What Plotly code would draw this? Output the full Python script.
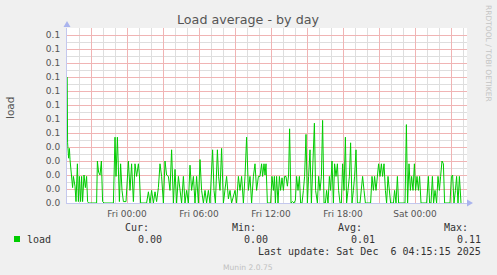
import plotly.graph_objects as go
import pandas as pd

# ---------------- data ----------------
start_time = "2025-12-04 19:00"
end_time = "2025-12-06 04:20"

# minutes after start_time, and load values
minutes = [1, 3, 8, 12, 15, 23, 28, 32, 40, 45, 52, 57, 62, 68, 73, 78, 85, 92, 98, 103,
           108, 148, 152, 158, 165, 172, 178, 185, 232, 240, 245, 252, 257, 262, 268, 275,
           282, 295, 307, 315, 323, 332, 340, 348, 357, 362, 368, 398, 407, 415, 423, 432,
           440, 448, 457, 465, 473, 482, 490, 498, 507, 515, 523, 532, 540, 548, 557, 565,
           573, 582, 590, 598, 607, 615, 623, 632, 640, 648, 657, 665, 673, 682, 690, 698,
           707, 715, 728, 735, 742, 752, 758, 765, 773, 782, 790, 798, 807, 815, 823, 832,
           840, 848, 857, 865, 873, 882, 890, 898, 907, 915,
           923, 932, 940, 948, 957, 965, 973, 978, 985, 990, 995, 1002, 1018, 1025, 1032,
           1037, 1042, 1048, 1055, 1062, 1068, 1075, 1082, 1088, 1095, 1102, 1108, 1113,
           1120, 1128, 1135, 1142, 1148, 1155, 1162, 1168, 1175, 1182, 1188, 1195, 1202,
           1208, 1215, 1222, 1228, 1237, 1243, 1252, 1258, 1265, 1272, 1278, 1285, 1292,
           1298, 1305, 1312, 1318, 1325, 1332, 1338, 1345, 1352, 1358, 1365, 1372, 1378,
           1385, 1392, 1398, 1405, 1412, 1418, 1425, 1432, 1438, 1445, 1452, 1465, 1472,
           1478, 1485, 1492, 1518, 1525, 1532, 1538, 1545, 1552, 1558, 1565, 1572, 1578,
           1585, 1592, 1598, 1605, 1612, 1618, 1632, 1638, 1645, 1652, 1658, 1690, 1697,
           1703, 1710, 1717, 1723, 1730, 1737, 1743, 1750, 1757, 1763, 1770, 1798, 1807,
           1813, 1820, 1827, 1833, 1840, 1848, 1855, 1862, 1868, 1875, 1882, 1888, 1915,
           1922, 1928, 1935, 1942, 1948, 1955, 1962, 1970]

load = [0.090, 0.043, 0.032, 0.039, 0.031, 0.019, 0.011, 0.019, 0.012, 0.001, 0.028, 0.001,
        0.019, 0.001, 0.019, 0.001, 0.020, 0.011, 0.019, 0.001,
        0.000, 0.000, 0.030, 0.022, 0.020, 0.030, 0.001, 0.000, 0.000, 0.047, 0.019, 0.047,
        0.020, 0.001, 0.028, 0.009,
        0.001, 0.001, 0.030, 0.009, 0.028, 0.001, 0.028, 0.019, 0.028, 0.020, 0.000, 0.000,
        0.008, 0.000, 0.009, 0.000,
        0.008, 0.001, 0.011, 0.028, 0.019, 0.000, 0.030, 0.020, 0.019, 0.009, 0.038, 0.000,
        0.024, 0.000, 0.019, 0.009,
        0.000, 0.019, 0.000, 0.009, 0.000, 0.027, 0.009, 0.019, 0.000, 0.019, 0.000, 0.031,
        0.009, 0.000, 0.009, 0.000,
        0.009, 0.000, 0.038, 0.009, 0.000, 0.038, 0.019, 0.009, 0.039, 0.000, 0.009, 0.019,
        0.003, 0.009, 0.000, 0.006,
        0.009, 0.000, 0.019, 0.009, 0.019, 0.000, 0.019, 0.047, 0.009, 0.019,
        0.000, 0.019, 0.028, 0.009, 0.019, 0.019, 0.028, 0.019, 0.028, 0.020, 0.028, 0.000,
        0.000, 0.019, 0.009,
        0.019, 0.000, 0.019, 0.000, 0.019, 0.009, 0.018, 0.009, 0.019, 0.019, 0.012, 0.020,
        0.053,
        0.000, 0.001, 0.000, 0.002, 0.019, 0.009, 0.019, 0.000, 0.000, 0.009, 0.019, 0.049,
        0.000,
        0.019, 0.038, 0.000, 0.019, 0.057, 0.009, 0.000, 0.019, 0.009, 0.019, 0.059, 0.000,
        0.000,
        0.009, 0.000, 0.019, 0.009, 0.030, 0.000, 0.028, 0.019, 0.028, 0.009, 0.000, 0.000,
        0.028,
        0.009, 0.047, 0.000, 0.009, 0.019, 0.043, 0.000, 0.009, 0.019, 0.038, 0.000, 0.000,
        0.009,
        0.019, 0.009, 0.000, 0.000, 0.019, 0.009, 0.019, 0.009, 0.019, 0.028, 0.019, 0.028,
        0.019,
        0.028, 0.009, 0.000, 0.019, 0.009, 0.000, 0.000, 0.009, 0.000, 0.019, 0.000, 0.000,
        0.056,
        0.000, 0.028, 0.009, 0.019, 0.009, 0.028, 0.009, 0.019, 0.009, 0.019, 0.000, 0.000,
        0.019,
        0.000, 0.000, 0.019, 0.000, 0.009, 0.000, 0.019, 0.009, 0.019, 0.030, 0.028, 0.000,
        0.000,
        0.019, 0.020, 0.000, 0.009, 0.019, 0.000, 0.019, 0.000]

tick_times = ["2025-12-04 21:00", "2025-12-05 00:00", "2025-12-05 03:00", "2025-12-05 06:00",
              "2025-12-05 09:00", "2025-12-05 12:00", "2025-12-05 15:00", "2025-12-05 18:00",
              "2025-12-05 21:00", "2025-12-06 00:00", "2025-12-06 03:00"]
tick_labels = ["", "Fri 00:00", "", "Fri 06:00", "", "Fri 12:00", "", "Fri 18:00", "",
               "Sat 00:00", ""]

y_ticks = [0.00, 0.01, 0.02, 0.03, 0.04, 0.05, 0.06, 0.07, 0.08, 0.09, 0.10, 0.11, 0.12]
y_tick_labels = ["0.0", "0.0", "0.0", "0.0", "0.0", "0.1", "0.1", "0.1", "0.1", "0.1",
                 "0.1", "0.1", "0.1"]

series_name = "load"
legend_headers = ["Cur:", "Min:", "Avg:", "Max:"]
legend_values = ["0.00", "0.00", "0.01", "0.11"]
last_update = "Last update: Sat Dec  6 04:15:15 2025"
title_text = "Load average - by day"
y_title = "load"
side_text = "RRDTOOL / TOBI OETIKER"
footer_text = "Munin 2.0.75"

# ---------------- figure ----------------
times = pd.to_datetime(start_time) + pd.to_timedelta(minutes, unit="m")

# minor grid positions: every hour / every 0.005, excluding the major ones
major_t = set(pd.to_datetime(tick_times))
minor_x = [t for t in pd.date_range(start_time, end_time, freq="h") if t not in major_t]
minor_x = [t.strftime("%Y-%m-%d %H:%M") for t in minor_x]
minor_y = [round(v + 0.005, 3) for v in y_ticks]

W, H = 497, 275
PL, PR, PT, PB = 67, 467, 28, 203


def px(x):
    return (x - PL) / (PR - PL)


def py(y):
    return (PB - y) / (PB - PT)


GREEN = "#00cc00"
MGRID = "#f0b4b4"
GRID = "#dedede"
AXIS = "#c4c8ee"
ARROW = "#aab4ee"

fig = go.Figure()
fig.add_trace(go.Scatter(x=times, y=load, mode="lines",
                         line=dict(color=GREEN, width=1), hoverinfo="skip"))

axis_font = dict(family="DejaVu Sans", size=9, color="#555555")

fig.update_layout(
    width=W, height=H,
    margin=dict(l=PL, r=W - PR, t=PT, b=H - PB),
    paper_bgcolor="#f0f0f0", plot_bgcolor="#ffffff",
    showlegend=False,
    xaxis=dict(
        type="date", range=[start_time, end_time],
        tickmode="array", tickvals=tick_times, ticktext=tick_labels,
        showgrid=True, gridcolor=MGRID, gridwidth=1,
        minor=dict(tickmode="array", tickvals=minor_x, showgrid=True,
                   gridcolor=GRID, gridwidth=1),
        showline=True, linecolor=AXIS, linewidth=1,
        zeroline=False, ticks="outside", ticklen=2, tickcolor="rgba(0,0,0,0)",
        tickfont=axis_font, fixedrange=True,
    ),
    yaxis=dict(
        range=[0, 0.125],
        tickmode="array", tickvals=y_ticks, ticktext=y_tick_labels,
        showgrid=True, gridcolor=MGRID, gridwidth=1,
        minor=dict(tickmode="array", tickvals=minor_y, showgrid=True,
                   gridcolor=GRID, gridwidth=1),
        showline=True, linecolor=AXIS, linewidth=1,
        zeroline=False, ticks="outside", ticklen=4, tickcolor="rgba(0,0,0,0)",
        tickfont=axis_font, fixedrange=True,
    ),
)

shapes = [
    # axis arrows
    dict(type="path", xref="paper", yref="paper",
         path=f"M {px(473)},{py(203)} L {px(467)},{py(199.5)} L {px(467)},{py(206.5)} Z",
         fillcolor=ARROW, line=dict(width=0)),
    dict(type="path", xref="paper", yref="paper",
         path=f"M {px(67)},{py(21)} L {px(63.5)},{py(27)} L {px(70.5)},{py(27)} Z",
         fillcolor=ARROW, line=dict(width=0)),
    # legend colour box
    dict(type="rect", xref="paper", yref="paper",
         x0=px(14), x1=px(20), y0=py(242), y1=py(236),
         fillcolor=GREEN, line=dict(width=0)),
]

mono = dict(family="DejaVu Sans Mono", size=10, color="#333333")
ann = []


def add_text(text, x, y, xanchor="left", font=None, angle=0):
    ann.append(dict(text=text, x=px(x), y=py(y), xref="paper", yref="paper",
                    xanchor=xanchor, yanchor="middle", showarrow=False,
                    font=font or mono, textangle=angle, borderpad=0))


add_text(title_text, 248, 19, "center",
         dict(family="DejaVu Sans", size=12.7, color="#555555"))
add_text(y_title, 10, 108, "center",
         dict(family="DejaVu Sans", size=10.5, color="#555555"), angle=-90)
add_text(side_text, 489, 53, "center",
         dict(family="DejaVu Sans", size=7.5, color="#c4c4c4"), angle=90)
add_text(series_name, 26, 239, "left")

header_right = [150, 257, 363, 469]
value_right = [163, 269, 376, 482]
for h, v, hx, vx in zip(legend_headers, legend_values, header_right, value_right):
    add_text(h, hx, 227, "right")
    add_text(v, vx, 239, "right")

add_text(last_update, 482, 251, "right")
add_text(footer_text, 248, 267, "center",
         dict(family="DejaVu Sans", size=7.6, color="#c0c0c0"))

fig.update_layout(shapes=shapes, annotations=ann)

fig.write_html("out.html")
